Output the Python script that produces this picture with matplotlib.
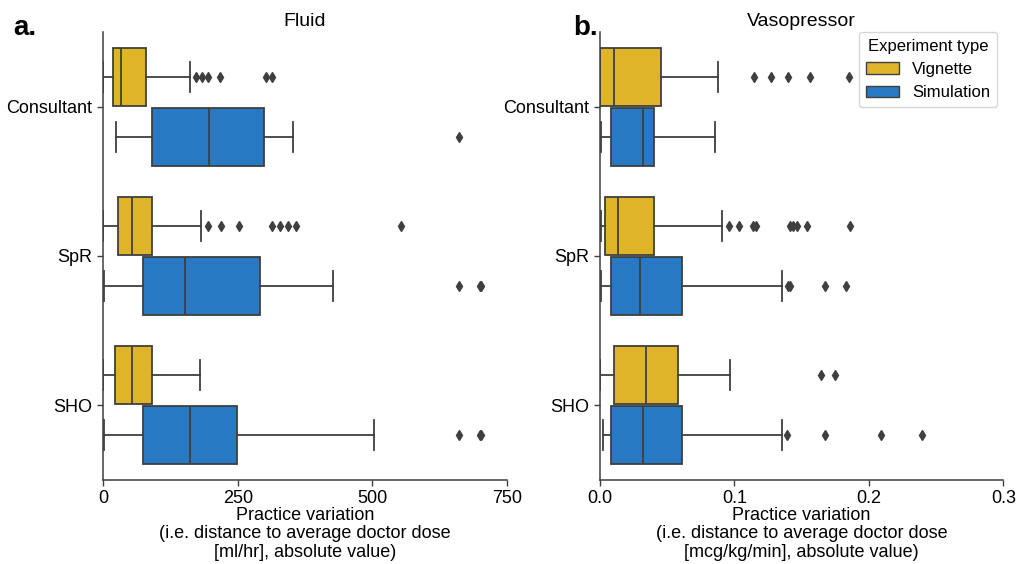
import matplotlib
matplotlib.use("Agg")
import matplotlib.pyplot as plt
from matplotlib.patches import Patch

plt.rcParams['font.family'] = ['Liberation Sans', 'DejaVu Sans']

categories = ["Consultant", "SpR", "SHO"]
hues = ["Vignette", "Simulation"]
colors = ["#E0B429", "#2679C2"]
line_color = "#3f3f3f"

# Fluid panel: [whislo, q1, med, q3, whishi] per category for each hue
fluid_vignette = [
    [0, 18.6, 33.4, 79.8, 161.5],
    [0, 27.2, 54.4, 90.9, 181.8],
    [0, 22.8, 54.4, 91.5, 180.0],
]
fluid_vignette_fliers = [
    [173, 183.7, 194, 217.7, 303, 313.6],
    [194, 219.5, 253, 314, 329, 342.6, 358, 553],
    [],
]
fluid_simulation = [
    [23.4, 91.5, 196.7, 298.8, 351.9],
    [1.2, 73.5, 151.5, 292.0, 427.0],
    [2.4, 73.5, 160.8, 248.7, 502.0],
]
fluid_simulation_fliers = [
    [660],
    [660, 699, 702],
    [660, 699, 702],
]

# Vasopressor panel
vaso_vignette = [
    [0.0, 0.0, 0.0104, 0.0454, 0.0878],
    [0.001, 0.004, 0.0136, 0.040, 0.091],
    [0.0, 0.0104, 0.0342, 0.0583, 0.0965],
]
vaso_vignette_fliers = [
    [0.1148, 0.1272, 0.1401, 0.1563, 0.185],
    [0.0962, 0.1034, 0.114, 0.116, 0.1414, 0.1439, 0.1468, 0.1543, 0.1858],
    [0.1642, 0.1751],
]
vaso_simulation = [
    [0.0005, 0.008, 0.0322, 0.040, 0.0856],
    [0.001, 0.0084, 0.0298, 0.0608, 0.1357],
    [0.002, 0.0082, 0.0318, 0.0608, 0.1357],
]
vaso_simulation_fliers = [
    [],
    [0.1397, 0.141, 0.1677, 0.1829],
    [0.1394, 0.1677, 0.2089, 0.2394],
]

fluid_ticks = [0, 250, 500, 750]
fluid_ticklabels = ["0", "250", "500", "750"]
vaso_ticks = [0.0, 0.1, 0.2, 0.3]
vaso_ticklabels = ["0.0", "0.1", "0.2", "0.3"]

fig = plt.figure(figsize=(10.18, 5.64), dpi=100)
ax1 = fig.add_axes([0.1012, 0.1498, 0.397, 0.7926])
ax2 = fig.add_axes([0.5894, 0.1498, 0.3962, 0.7926])

FS = 13
box_w = 0.4


def make_stats(vals, fliers):
    out = []
    for v, f in zip(vals, fliers):
        out.append(dict(whislo=v[0], q1=v[1], med=v[2], q3=v[3], whishi=v[4], fliers=f))
    return out


def draw(ax, vig, vigf, sim, simf, xlim, ticks, ticklabels, title, unit):
    for i, (vals, fl) in enumerate([(vig, vigf), (sim, simf)]):
        stats = make_stats(vals, fl)
        offs = -0.2 if i == 0 else 0.2
        pos = [k + offs for k in range(len(categories))]
        ax.bxp(stats, positions=pos, widths=box_w * 0.98, vert=False,
               patch_artist=True, capwidths=box_w * 0.5,
               boxprops=dict(facecolor=colors[i], edgecolor=line_color, linewidth=1.3),
               medianprops=dict(color=line_color, linewidth=1.3),
               whiskerprops=dict(color=line_color, linewidth=1.3),
               capprops=dict(color=line_color, linewidth=1.3),
               flierprops=dict(marker='d', markerfacecolor=line_color,
                               markeredgecolor=line_color, markersize=5,
                               linestyle='none'),
               manage_ticks=False)
    ax.set_ylim(2.5, -0.5)
    ax.set_yticks(range(len(categories)))
    ax.set_yticklabels(categories, fontsize=FS)
    ax.set_xlim(*xlim)
    ax.set_xticks(ticks)
    ax.set_xticklabels(ticklabels, fontsize=FS)
    ax.set_title(title, fontsize=14, pad=5)
    ax.set_xlabel("Practice variation\n(i.e. distance to average doctor dose\n[" + unit + "], absolute value)",
                  fontsize=FS, labelpad=0, linespacing=1.12)
    for s in ["top", "right"]:
        ax.spines[s].set_visible(False)
    for s in ["left", "bottom"]:
        ax.spines[s].set_color(line_color)
        ax.spines[s].set_linewidth(1.1)
    ax.tick_params(colors=line_color, labelcolor="black", width=1.0, length=4)


draw(ax1, fluid_vignette, fluid_vignette_fliers, fluid_simulation, fluid_simulation_fliers,
     (0, 750), fluid_ticks, fluid_ticklabels, "Fluid", "ml/hr")
draw(ax2, vaso_vignette, vaso_vignette_fliers, vaso_simulation, vaso_simulation_fliers,
     (0, 0.3), vaso_ticks, vaso_ticklabels, "Vasopressor", "mcg/kg/min")

handles = [Patch(facecolor=colors[i], edgecolor=line_color, label=hues[i]) for i in range(2)]
ax2.legend(handles=handles, title="Experiment type", loc="upper right", fontsize=12,
           title_fontsize=12, bbox_to_anchor=(1.005, 1.02))

fig.text(0.0128, 0.938, "a.", fontsize=20, fontweight="bold", va="baseline")
fig.text(0.563, 0.938, "b.", fontsize=20, fontweight="bold", va="baseline")

fig.savefig("out.png", dpi=100)
